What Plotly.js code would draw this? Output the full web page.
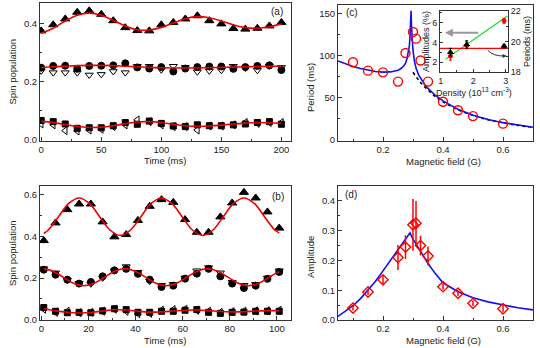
<!DOCTYPE html>
<html><head><meta charset="utf-8">
<script src="https://cdn.plot.ly/plotly-3.0.1.min.js"></script>
<style>html,body{margin:0;padding:0;background:#fff}#chart{width:540px;height:348px}</style>
</head><body><div id="chart"></div>
<script>
// ---------- panel (a) ----------
var timeA = [0,10,20,30,40,50,60,70,80,90,100,110,120,130,140,150,160,170,180,190,200];
var aTri  = [0.376,0.397,0.417,0.44,0.445,0.433,0.411,0.387,0.377,0.376,0.397,0.405,0.417,0.428,0.411,0.4,0.384,0.382,0.385,0.393,0.405];
var aCirc = [0.249,0.255,0.256,0.245,0.255,0.256,0.257,0.264,0.25,0.246,0.251,0.236,0.246,0.251,0.253,0.253,0.245,0.251,0.255,0.257,0.241];
var aDown = [0.238,0.232,0.232,0.232,0.224,0.226,0.236,0.232,0.254,0.254,0.242,0.254,0.25,0.235,0.238,0.24,0.254,0.248,0.24,0.255,0.25];
var aSq   = [0.067,0.063,0.055,0.04,0.042,0.042,0.049,0.06,0.054,0.065,0.057,0.048,0.046,0.052,0.049,0.049,0.052,0.055,0.06,0.063,0.054];
var aLeft = [0.055,0.052,0.032,0.031,0.034,0.037,0.046,0.052,0.069,0.063,0.052,0.046,0.046,0.034,0.048,0.048,0.052,0.06,0.057,0.06,0.06];
var aFitTop = [0.368,0.385,0.41,0.43,0.437,0.43,0.412,0.393,0.38,0.379,0.388,0.403,0.418,0.425,0.421,0.41,0.397,0.387,0.385,0.39,0.4];
var aFitMid = [0.249,0.252,0.254,0.256,0.257,0.257,0.256,0.254,0.252,0.25,0.249,0.248,0.248,0.248,0.249,0.25,0.251,0.252,0.253,0.254,0.254];
var aFitBot = [0.064,0.06,0.053,0.046,0.043,0.044,0.049,0.056,0.062,0.063,0.06,0.054,0.049,0.047,0.048,0.051,0.055,0.058,0.06,0.059,0.057];

// ---------- panel (b) ----------
var timeB = [1,6,11,16,21,26,31,36,41,46,51,56,61,66,71,76,81,86,91,96,101];
var bTri  = [0.38,0.465,0.529,0.556,0.556,0.47,0.398,0.409,0.477,0.545,0.577,0.564,0.481,0.42,0.42,0.494,0.561,0.612,0.585,0.518,0.44];
var bCirc = [0.24,0.216,0.192,0.173,0.181,0.208,0.237,0.244,0.22,0.192,0.157,0.163,0.197,0.221,0.244,0.208,0.173,0.152,0.163,0.196,0.229];
var bDown = [0.245,0.225,0.19,0.175,0.172,0.2,0.235,0.255,0.228,0.185,0.165,0.17,0.2,0.235,0.25,0.225,0.18,0.165,0.17,0.2,0.235];
var bSq   = [0.058,0.04,0.033,0.035,0.033,0.042,0.052,0.048,0.035,0.035,0.04,0.04,0.045,0.048,0.035,0.03,0.035,0.036,0.04,0.04,0.04];
var bLeft = [0.05,0.035,0.04,0.033,0.035,0.04,0.05,0.04,0.028,0.03,0.045,0.048,0.05,0.045,0.04,0.035,0.038,0.04,0.042,0.043,0.045];
var bFitBot = [0.053,0.042,0.035,0.032,0.034,0.041,0.047,0.046,0.04,0.036,0.037,0.041,0.045,0.046,0.043,0.039,0.037,0.038,0.041,0.043,0.043];
var bFitTopT = [1,2.875,7.25,11.625,16,20.375,24.75,29.125,33.5,37.875,42.25,46.625,51,55.375,59.75,64.125,68.5,72.875,77.25,81.625,86,90.375,94.75,99.125,101];
var bFitTop  = [0.414,0.431,0.495,0.559,0.585,0.559,0.495,0.431,0.405,0.431,0.495,0.559,0.585,0.559,0.495,0.431,0.405,0.431,0.495,0.559,0.585,0.559,0.495,0.431,0.417];
var bFitMidT = [1,4.875,9.25,13.625,18,22.375,26.75,31.125,35.5,39.875,44.25,48.625,53,57.375,61.75,66.125,70.5,74.875,79.25,83.625,88,92.375,96.75,101];
var bFitMid  = [0.244,0.233,0.204,0.175,0.163,0.175,0.204,0.233,0.245,0.233,0.204,0.175,0.163,0.175,0.204,0.233,0.245,0.233,0.204,0.175,0.163,0.175,0.204,0.232];

// ---------- panel (c) ----------
var fieldC  = [0.1,0.15,0.2,0.25,0.275,0.3,0.31,0.325,0.35,0.4,0.45,0.5,0.6];
var periodC = [92,82,80,69,103,128,120,94,69,45,35,28,19];
var theoC_B = [0.05,0.075,0.1,0.125,0.15,0.175,0.2,0.225,0.25,0.26,0.27,0.275,0.28,0.285,0.288,0.29,0.292,0.2935,0.295,0.297,0.3,0.305,0.31,0.32,0.33,0.34,0.35,0.375,0.4,0.425,0.45,0.5,0.55,0.6,0.65,0.7];
var theoC_P = [93.5,90,87,84.5,82.5,81,80.3,80.5,82.5,84.5,88,91,96,104,112,122,137,153,135,120,106,93,85,76,70,65,61,52.5,46,40.5,36,29,24,20.2,17.2,14.8];
var highC_B = [0.3,0.325,0.35,0.375,0.4,0.45,0.5,0.55,0.6,0.65,0.7];
var highC_P = [80,68,59,51,45,35.5,28.8,23.8,20,17,14.7];

// ---------- inset of (c) ----------
var density   = [1.3,1.8,2.95];
var amplitude = [2.6,3.7,6.2];
var ampErr    = [0.4,0.35,0.25];
var periodIn  = [19.3,19.8,19.7];
var perErr    = [0.25,0.25,0.12];
var ampFitX   = [1.15,3.05];
var ampFitY   = [2.3,6.7];
var perFitX   = [0.98,3.07];
var perFitY   = [19.55,19.55];

// ---------- panel (d) ----------
var fieldD = [0.1,0.15,0.2,0.25,0.275,0.3,0.31,0.325,0.35,0.4,0.45,0.5,0.6];
var ampD   = [0.04,0.094,0.135,0.21,0.245,0.32,0.325,0.25,0.215,0.112,0.09,0.056,0.038];
var ampDErr= [0.008,0.01,0.015,0.042,0.04,0.087,0.075,0.033,0.032,0.01,0.01,0.01,0.01];
var theoD_B = [0.05,0.075,0.1,0.125,0.15,0.175,0.2,0.225,0.25,0.27,0.29,0.3,0.31,0.325,0.35,0.375,0.4,0.45,0.5,0.55,0.6,0.65,0.7];
var theoD_A = [0.012,0.03,0.048,0.072,0.1,0.13,0.165,0.2,0.235,0.265,0.293,0.272,0.255,0.23,0.19,0.155,0.125,0.095,0.075,0.061,0.05,0.041,0.034];

var FONT = 'Liberation Sans, Arial, sans-serif';
var LC = '#333';
var W = 540, H = 348;
function px(x){return x/W;}
function py(y){return 1-y/H;}

function axis(dom, anchor, range, dtick, minor, extra){
  var a = {domain:dom, anchor:anchor, range:range, dtick:dtick, tick0:0,
    showline:true, mirror:true, linecolor:LC, linewidth:1,
    ticks:'inside', ticklen:4, tickwidth:1, tickcolor:LC,
    showgrid:false, zeroline:false,
    tickfont:{family:FONT, size:9.5, color:'#222'},
    minor:{ticks:'inside', ticklen:2, tickcolor:LC, dtick:minor, tick0:0, showgrid:false}};
  for (var k in extra) a[k]=extra[k];
  return a;
}

var traces = [];
function mk(x,y,sym,xa,ya,size,color,lw){
  return {x:x,y:y,type:'scatter',mode:'markers',xaxis:xa,yaxis:ya,
    marker:{symbol:sym,size:size||7,color:color||'#000',line:{color:color||'#000',width:lw||1}},hoverinfo:'skip'};
}
function ln(x,y,xa,ya,color,w,dash,shape){
  return {x:x,y:y,type:'scatter',mode:'lines',xaxis:xa,yaxis:ya,
    line:{color:color,width:w||1.6,dash:dash||'solid',shape:shape||'spline'},hoverinfo:'skip'};
}

// (a)
traces.push(mk(timeA,aDown,'triangle-down-open','x','y',7));
traces.push(mk(timeA,aCirc,'circle','x','y',7));
traces.push(mk(timeA,aLeft,'triangle-left-open','x','y',7));
traces.push(mk(timeA,aSq,'square','x','y',6));
traces.push(mk(timeA,aTri,'triangle-up','x','y',8));
traces.push(ln(timeA,aFitTop,'x','y','#ee0000'));
traces.push(ln(timeA,aFitMid,'x','y','#ee0000'));
traces.push(ln(timeA,aFitBot,'x','y','#ee0000'));
// (b)
traces.push(mk(timeB,bDown,'triangle-down-open','x2','y2',7));
traces.push(mk(timeB,bCirc,'circle','x2','y2',7));
traces.push(mk(timeB,bLeft,'triangle-left-open','x2','y2',7));
traces.push(mk(timeB,bSq,'square','x2','y2',6));
traces.push(mk(timeB,bTri,'triangle-up','x2','y2',8));
traces.push(ln(bFitTopT,bFitTop,'x2','y2','#ee0000'));
traces.push(ln(bFitMidT,bFitMid,'x2','y2','#ee0000'));
traces.push(ln(timeB,bFitBot,'x2','y2','#ee0000'));
// (c)
traces.push(ln(highC_B,highC_P,'x3','y3','#000',1.6,'dot'));
traces.push(ln(theoC_B,theoC_P,'x3','y3','#1010ee',1.6,'solid','linear'));
traces.push(mk(fieldC,periodC,'circle-open','x3','y3',9,'#ff0000',1.4));
// inset
traces.push(ln(ampFitX,ampFitY,'x5','y5','#22dd22',1.2,'solid','linear'));
traces.push(ln(perFitX,perFitY,'x5','y6','#ff0000',1.2,'solid','linear'));
var t1 = mk(density,periodIn,'triangle-up','x5','y6',5,'#000',1);
t1.error_y = {type:'data',array:perErr,color:'#000',thickness:1,width:1.5};
traces.push(t1);
var t2 = mk(density,amplitude,'circle','x5','y5',4,'#ff0000',1);
t2.error_y = {type:'data',array:ampErr,color:'#ff0000',thickness:1,width:1.5};
traces.push(t2);
// (d)
traces.push(ln(theoD_B,theoD_A,'x4','y4','#1010ee',1.6,'solid','linear'));
var dd = mk(fieldD,ampD,'diamond-open','x4','y4',8,'#ff0000',1.4);
dd.error_y = {type:'data',array:ampDErr,color:'#ff0000',thickness:1.5,width:0};
traces.push(dd);

var domAX = [px(40),px(291)];
var domCX = [px(338),px(533)];
var domTop = [py(140.5),py(3)];
var domBot = [py(320),py(185.5)];
var domCTop = [py(140.5),py(5)];

var layout = {
  width:W, height:H, margin:{l:0,r:0,t:0,b:0}, showlegend:false,
  paper_bgcolor:'#fff', plot_bgcolor:'rgba(0,0,0,0)',
  font:{family:FONT, size:9.5, color:'#222'},
  xaxis: axis(domAX,'y',[-1,208],50,25,{}),
  yaxis: axis(domTop,'x',[-0.002,0.472],0.2,0.1,{tickformat:'.1f'}),
  xaxis2: axis(domAX,'y2',[-0.6,106],20,10,{}),
  yaxis2: axis(domBot,'x2',[-0.002,0.645],0.2,0.1,{tickformat:'.1f'}),
  xaxis3: axis(domCX,'y3',[0.05,0.7],0.2,0.1,{tickformat:'.1f'}),
  yaxis3: axis(domCTop,'x3',[-1,160],50,25,{}),
  xaxis4: axis(domCX,'y4',[0.05,0.7],0.2,0.1,{tickformat:'.1f'}),
  yaxis4: axis(domBot,'x4',[0,0.452],0.1,0.05,{tickformat:'.1f'}),
  xaxis5: axis([px(440),px(508)],'y5',[0.98,3.07],1,0.5,{tickfont:{family:FONT,size:9,color:'#222'},ticklen:3}),
  yaxis5: axis([py(72),py(11)],'x5',[1.0,7.2],2,1,{tickfont:{family:FONT,size:9,color:'#222'},ticklen:3,mirror:false}),
  yaxis6: axis([py(72),py(11)],'x5',[18,22],2,1,{overlaying:'y5',side:'right',anchor:'x5',tickfont:{family:FONT,size:9,color:'#222'},ticklen:3,mirror:false}),
  shapes:[
    {type:'rect',xref:'paper',yref:'paper',x0:px(440),x1:px(508),y0:py(72),y1:py(11),fillcolor:'#fff',line:{width:0},layer:'below'},
    {type:'path',xref:'x5',yref:'y6',path:'M 2.45,19.42 Q 2.62,19.02 2.98,19.05',line:{color:'#333',width:1}}
  ],
  annotations:[]
};
function ann(text,x,y,opt){
  var a={text:text,x:px(x),y:py(y),xref:'paper',yref:'paper',showarrow:false,
    font:{family:FONT,size:9.5,color:'#222'},xanchor:'center',yanchor:'middle'};
  for (var k in opt) a[k]=opt[k];
  layout.annotations.push(a);
}
ann('Spin population',12,71.5,{textangle:-90});
ann('Spin population',12,253,{textangle:-90});
ann('Time (ms)',165,160);
ann('Time (ms)',165,340);
ann('Period (ms)',310,88,{textangle:-90});
ann('Amplitude',310,257,{textangle:-90});
ann('Magnetic field (G)',443,161);
ann('Magnetic field (G)',443,340);
ann('(a)',277,12,{font:{family:FONT,size:10,color:'#222'}});
ann('(b)',278,196,{font:{family:FONT,size:10,color:'#222'}});
ann('(c)',352,13,{font:{family:FONT,size:10,color:'#222'}});
ann('(d)',351,195,{font:{family:FONT,size:10,color:'#222'}});
ann('Amplitudes (%)',426,42,{textangle:-90,font:{family:FONT,size:9,color:'#222'}});
ann('Periods (ms)',527,42,{textangle:-90,font:{family:FONT,size:9,color:'#222'}});
ann('Density (10<sup>13</sup> cm<sup>-3</sup>)',474,92,{font:{family:FONT,size:9,color:'#222'}});
layout.annotations.push({x:1.13,y:5.0,xref:'x5',yref:'y5',ax:2.2,ay:5.0,axref:'x5',ayref:'y5',
  text:'',showarrow:true,arrowhead:2,arrowsize:0.8,arrowwidth:2,arrowcolor:'#999'});
layout.annotations.push({x:3.03,y:19.05,xref:'x5',yref:'y6',ax:-6,ay:0,
  text:'',showarrow:true,arrowhead:2,arrowsize:0.8,arrowwidth:1,arrowcolor:'#333'});

Plotly.newPlot('chart',traces,layout,{staticPlot:true,displayModeBar:false});
</script></body></html>
